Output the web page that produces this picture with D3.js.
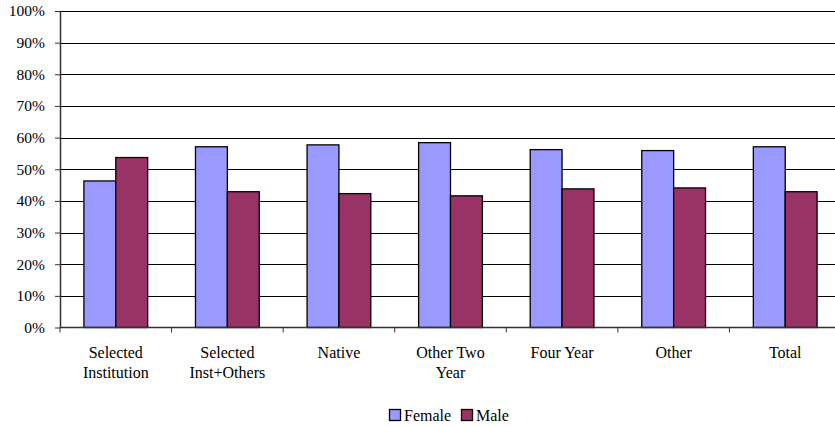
<!DOCTYPE html>
<html><head><meta charset="utf-8">
<script src="https://cdn.jsdelivr.net/npm/d3@7"></script>
<style>body{margin:0;background:#fff}svg{display:block}</style>
</head><body><svg id="c" width="835" height="426"></svg>
<script>
const categories = [["Selected","Institution"],["Selected","Inst+Others"],["Native"],["Other Two","Year"],["Four Year"],["Other"],["Total"]];
const seriesNames = ["Female","Male"];
const female = [46.3,57.1,57.7,58.4,56.2,55.9,57.1];
const male = [53.7,42.9,42.3,41.6,43.8,44.1,42.9];
const yTicks = [0,10,20,30,40,50,60,70,80,90,100];
const colors = ["#9999FF","#993366"];

const FF = '"Liberation Serif"';
const svg = d3.select("#c").style("font-family",FF);
const L=60, R=841, T=11, B=327.5;
const x = d3.scaleBand().domain(d3.range(categories.length)).range([L,R]).paddingInner(0).paddingOuter(0);
const y = d3.scaleLinear().domain([0,100]).range([B,T]);
const bw = x.bandwidth()/3.5;
const off = (x.bandwidth()-2*bw)/2;

// gridlines
svg.append("g").selectAll("line").data(yTicks.filter(d=>d>0)).join("line")
 .attr("x1",L).attr("x2",R).attr("y1",d=>Math.round(y(d))+0.5).attr("y2",d=>Math.round(y(d))+0.5)
 .attr("stroke","#000").attr("stroke-width",1);

// bars
const data = [female, male];
data.forEach((vals,si)=>{
  svg.append("g").selectAll("rect").data(vals).join("rect")
   .attr("x",(d,i)=>x(i)+off+si*bw).attr("width",bw)
   .attr("y",d=>y(d)).attr("height",d=>B-y(d))
   .attr("fill",colors[si]).attr("stroke","#000").attr("stroke-width",1.3);
});

// y axis
const ya = svg.append("g").attr("transform",`translate(${L},0)`)
 .call(d3.axisLeft(y).tickValues(yTicks).tickFormat(d=>d+"%").tickSize(5).tickSizeOuter(0));
ya.attr("font-family",null).attr("font-size",null);
ya.select(".domain").attr("stroke","#333").attr("stroke-width",1.5);
ya.selectAll(".tick line").attr("stroke","#333");
ya.selectAll(".tick text").attr("x",-15).attr("fill","#000").style("font-family",FF).style("font-size","15.5px");

// x axis
const xa = svg.append("g").attr("transform",`translate(0,${B})`);
xa.append("line").attr("x1",L).attr("x2",R).attr("stroke","#333").attr("stroke-width",1.5);
xa.selectAll("line.t").data(d3.range(categories.length+1)).join("line").attr("class","t")
 .attr("x1",i=>L+i*x.bandwidth()).attr("x2",i=>L+i*x.bandwidth()).attr("y1",0).attr("y2",5).attr("stroke","#333");
const lab = xa.selectAll("text").data(categories).join("text")
 .attr("text-anchor","middle").style("font-family",FF).style("font-size","16px");
lab.each(function(d,i){
  const t=d3.select(this);
  d.forEach((s,j)=>t.append("tspan").attr("x",x(i)+x.bandwidth()/2).attr("y",30+j*20.7).text(s));
});

// legend
const lg = svg.append("g").attr("transform","translate(389.5,409.5)");
const items=[{n:seriesNames[0],x:0},{n:seriesNames[1],x:72}];
items.forEach((it,i)=>{
  lg.append("rect").attr("x",it.x).attr("y",0).attr("width",11).attr("height",11).attr("fill",colors[i]).attr("stroke","#000").attr("stroke-width",1.3);
  lg.append("text").attr("x",it.x+14.5).attr("y",11).style("font-family",FF).style("font-size","16px").text(it.n);
});
</script></body></html>
